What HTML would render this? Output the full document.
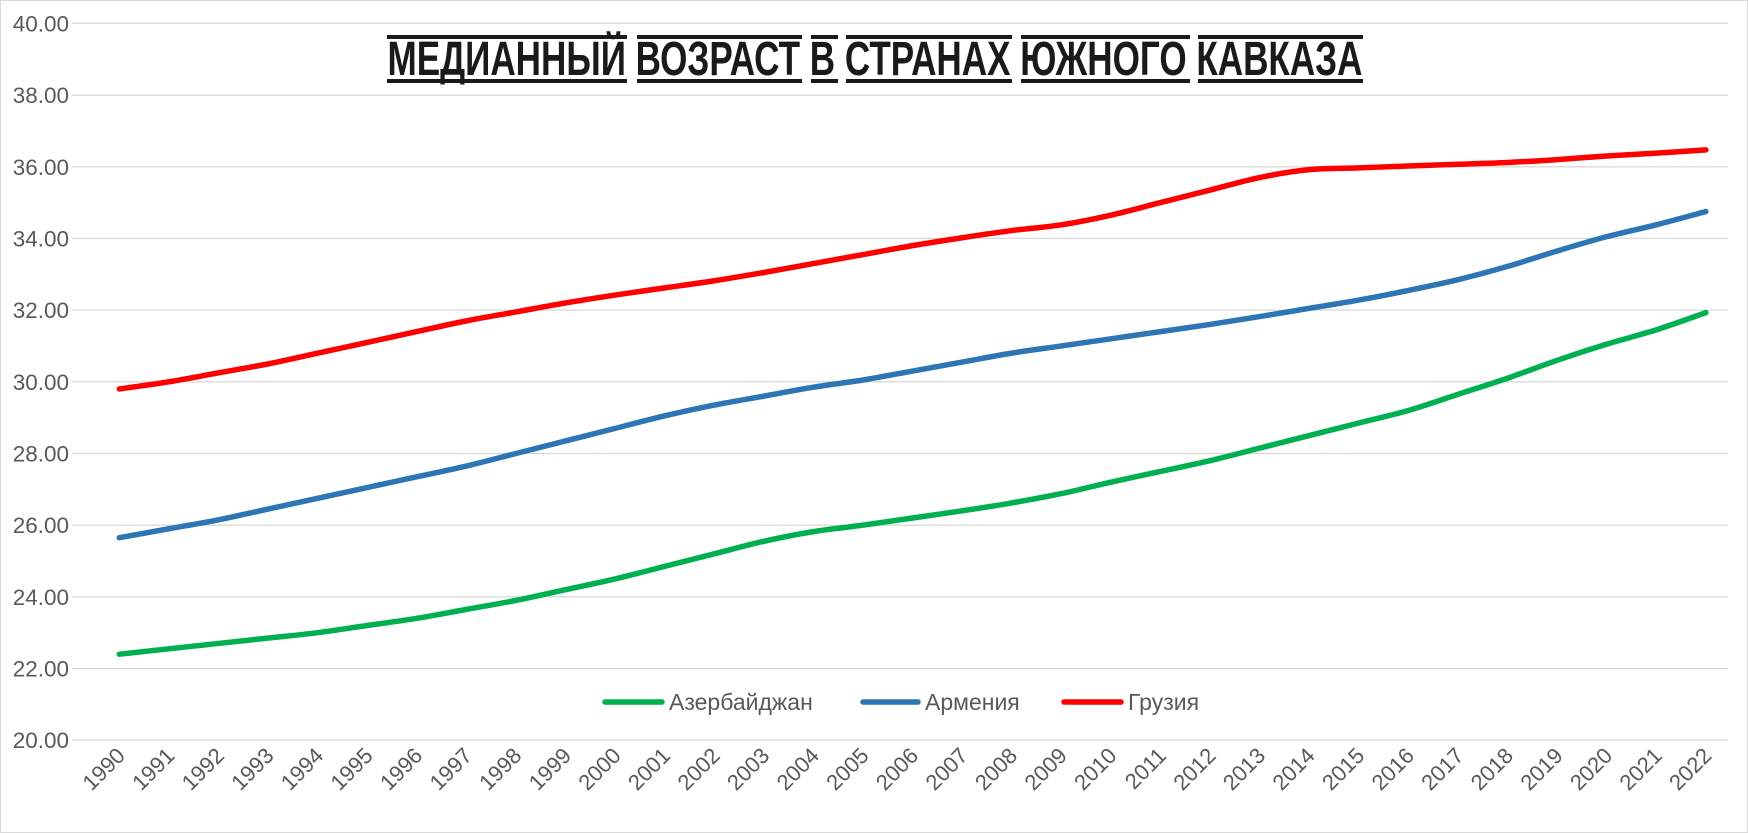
<!DOCTYPE html>
<html><head><meta charset="utf-8"><style>
html,body{margin:0;padding:0;background:#fff;}
svg{display:block;font-family:"Liberation Sans",sans-serif;}
</style></head><body>
<svg id="s" width="1748" height="833" viewBox="0 0 1748 833" xmlns="http://www.w3.org/2000/svg">
<rect x="0.5" y="0.5" width="1747" height="832" fill="#fff" stroke="#d9d9d9"/>
<g stroke="#d9d9d9" stroke-width="1.3">
<line x1="72" x2="1728" y1="23.4" y2="23.4"/><line x1="72" x2="1728" y1="95.1" y2="95.1"/>
<line x1="72" x2="1728" y1="166.8" y2="166.8"/><line x1="72" x2="1728" y1="238.4" y2="238.4"/>
<line x1="72" x2="1728" y1="310.1" y2="310.1"/><line x1="72" x2="1728" y1="381.8" y2="381.8"/>
<line x1="72" x2="1728" y1="453.5" y2="453.5"/><line x1="72" x2="1728" y1="525.2" y2="525.2"/>
<line x1="72" x2="1728" y1="596.8" y2="596.8"/><line x1="72" x2="1728" y1="668.5" y2="668.5"/>
<line x1="72" x2="1728" y1="740.2" y2="740.2"/>
</g>
<g fill="#595959" font-size="22.5" text-anchor="end">
<text x="69" y="31.4">40.00</text><text x="69" y="103.1">38.00</text><text x="69" y="174.8">36.00</text>
<text x="69" y="246.4">34.00</text><text x="69" y="318.1">32.00</text><text x="69" y="389.8">30.00</text>
<text x="69" y="461.5">28.00</text><text x="69" y="533.2">26.00</text><text x="69" y="604.8">24.00</text>
<text x="69" y="676.5">22.00</text><text x="69" y="748.2">20.00</text>
</g>
<g fill="#595959" font-size="22" text-anchor="end">
<text transform="translate(126.3,757) rotate(-45)">1990</text><text transform="translate(175.9,757) rotate(-45)">1991</text>
<text transform="translate(225.5,757) rotate(-45)">1992</text><text transform="translate(275.0,757) rotate(-45)">1993</text>
<text transform="translate(324.6,757) rotate(-45)">1994</text><text transform="translate(374.2,757) rotate(-45)">1995</text>
<text transform="translate(423.8,757) rotate(-45)">1996</text><text transform="translate(473.4,757) rotate(-45)">1997</text>
<text transform="translate(522.9,757) rotate(-45)">1998</text><text transform="translate(572.5,757) rotate(-45)">1999</text>
<text transform="translate(622.1,757) rotate(-45)">2000</text><text transform="translate(671.7,757) rotate(-45)">2001</text>
<text transform="translate(721.3,757) rotate(-45)">2002</text><text transform="translate(770.8,757) rotate(-45)">2003</text>
<text transform="translate(820.4,757) rotate(-45)">2004</text><text transform="translate(870.0,757) rotate(-45)">2005</text>
<text transform="translate(919.6,757) rotate(-45)">2006</text><text transform="translate(969.2,757) rotate(-45)">2007</text>
<text transform="translate(1018.7,757) rotate(-45)">2008</text><text transform="translate(1068.3,757) rotate(-45)">2009</text>
<text transform="translate(1117.9,757) rotate(-45)">2010</text><text transform="translate(1167.5,757) rotate(-45)">2011</text>
<text transform="translate(1217.1,757) rotate(-45)">2012</text><text transform="translate(1266.6,757) rotate(-45)">2013</text>
<text transform="translate(1316.2,757) rotate(-45)">2014</text><text transform="translate(1365.8,757) rotate(-45)">2015</text>
<text transform="translate(1415.4,757) rotate(-45)">2016</text><text transform="translate(1465.0,757) rotate(-45)">2017</text>
<text transform="translate(1514.5,757) rotate(-45)">2018</text><text transform="translate(1564.1,757) rotate(-45)">2019</text>
<text transform="translate(1613.7,757) rotate(-45)">2020</text><text transform="translate(1663.3,757) rotate(-45)">2021</text>
<text transform="translate(1712.9,757) rotate(-45)">2022</text>
</g>
<path id="pg" fill="none" stroke="#00b050" stroke-width="5.5" stroke-linecap="round" stroke-linejoin="round"/>
<path id="pa" fill="none" stroke="#2e75b6" stroke-width="5.5" stroke-linecap="round" stroke-linejoin="round"/>
<path id="pr" fill="none" stroke="#ff0000" stroke-width="5.5" stroke-linecap="round" stroke-linejoin="round"/>
<g fill="#1a1a1a">
<rect x="387" y="35" width="240" height="4"/><rect x="387" y="79" width="240" height="4"/>
<rect x="637" y="35" width="165" height="4"/><rect x="637" y="79" width="165" height="4"/>
<rect x="811" y="35" width="27" height="4"/><rect x="811" y="79" width="27" height="4"/>
<rect x="846" y="35" width="166" height="4"/><rect x="846" y="79" width="166" height="4"/>
<rect x="1021" y="35" width="169" height="4"/><rect x="1021" y="79" width="169" height="4"/>
<rect x="1198" y="35" width="165" height="4"/><rect x="1198" y="79" width="165" height="4"/>
</g>
<text x="875" y="75" text-anchor="middle" font-size="48" font-weight="bold" fill="#1a1a1a" textLength="975" lengthAdjust="spacingAndGlyphs" font-family="Liberation Sans Narrow, Liberation Sans, sans-serif">МЕДИАННЫЙ ВОЗРАСТ В СТРАНАХ ЮЖНОГО КАВКАЗА</text>
<line x1="605" x2="662" y1="702" y2="702" stroke="#00b050" stroke-width="5.5" stroke-linecap="round"/>
<text x="669" y="710" font-size="23" fill="#595959">Азербайджан</text>
<line x1="863" x2="918" y1="702" y2="702" stroke="#2e75b6" stroke-width="5.5" stroke-linecap="round"/>
<text x="925" y="710" font-size="23" fill="#595959">Армения</text>
<line x1="1064" x2="1121" y1="702" y2="702" stroke="#ff0000" stroke-width="5.5" stroke-linecap="round"/>
<text x="1128" y="710" font-size="23" fill="#595959">Грузия</text>
</svg>
<script>
var G=[29.8,30.0,30.25,30.5,30.8,31.1,31.4,31.7,31.95,32.2,32.42,32.62,32.82,33.05,33.3,33.55,33.8,34.02,34.22,34.38,34.65,35.0,35.35,35.7,35.92,35.97,36.02,36.07,36.12,36.2,36.3,36.38,36.47];
var A=[25.65,25.9,26.15,26.45,26.75,27.05,27.35,27.65,28.0,28.35,28.7,29.05,29.35,29.6,29.85,30.05,30.3,30.55,30.8,31.0,31.2,31.4,31.6,31.82,32.05,32.28,32.55,32.85,33.22,33.65,34.05,34.38,34.75];
var Z=[22.4,22.55,22.7,22.85,23.0,23.2,23.4,23.65,23.9,24.2,24.5,24.85,25.2,25.55,25.82,26.0,26.2,26.4,26.62,26.88,27.2,27.5,27.8,28.15,28.5,28.85,29.2,29.65,30.1,30.6,31.05,31.45,31.93];
function path(d){var p=d.map(function(v,i){return [119.3+i*49.58,740.2-(v-20)*35.84];});
var s="M"+p[0][0]+","+p[0][1];
for(var i=0;i<p.length-1;i++){var p0=p[i-1]||p[i],p1=p[i],p2=p[i+1],p3=p[i+2]||p2;
s+=" C"+(p1[0]+(p2[0]-p0[0])/6)+","+(p1[1]+(p2[1]-p0[1])/6)+" "+(p2[0]-(p3[0]-p1[0])/6)+","+(p2[1]-(p3[1]-p1[1])/6)+" "+p2[0]+","+p2[1];}
return s;}
document.getElementById("pg").setAttribute("d",path(Z));
document.getElementById("pa").setAttribute("d",path(A));
document.getElementById("pr").setAttribute("d",path(G));
</script>
</body></html>
